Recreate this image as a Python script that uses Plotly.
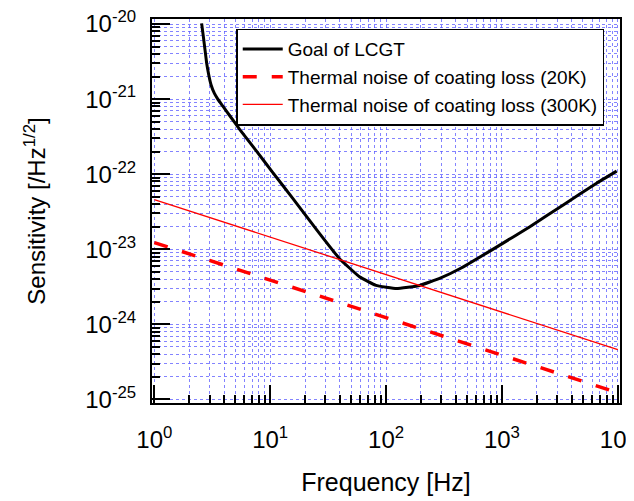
import plotly.graph_objects as go

# Goal of LCGT sensitivity curve
goal_f = [2.56, 2.65, 2.74, 2.83, 2.95, 3.09, 3.30, 3.53, 3.89, 4.45, 5.43, 7.62, 10.5, 15.6,
          26.7, 39.7, 59, 82, 123, 195, 290, 433, 898, 1742, 3381, 6561, 9780]
goal_h = [1.02e-20, 6.8e-21, 4.5e-21, 3.0e-21, 2.09e-21, 1.54e-21, 1.19e-21, 1.0e-21, 8.1e-22, 6.1e-22,
          3.98e-22, 2.03e-22, 1.06e-22, 4.8e-23, 1.62e-23, 7.5e-24, 4.3e-24, 3.3e-24, 3.0e-24, 3.3e-24,
          4.1e-24, 5.5e-24, 1.07e-23, 2.0e-23, 3.9e-23, 7.6e-23, 1.1e-22]

# Thermal noise of coating loss
th_f = [1, 10, 100, 1000, 10000]
th20_h = [1.23e-23, 3.9e-24, 1.23e-24, 3.9e-25, 1.23e-25]
th300_h = [4.6e-23, 1.46e-23, 4.6e-24, 1.46e-24, 4.6e-25]

xtick_vals = [1, 10, 100, 1000, 10000]
xtick_text = ["10<sup>0</sup>", "10<sup>1</sup>", "10<sup>2</sup>", "10<sup>3</sup>", "10<sup>4</sup>"]
ytick_vals = [1e-20, 1e-21, 1e-22, 1e-23, 1e-24, 1e-25]
ytick_text = ["10<sup>-20</sup>", "10<sup>-21</sup>", "10<sup>-22</sup>", "10<sup>-23</sup>", "10<sup>-24</sup>", "10<sup>-25</sup>"]

x_minor = [m * d for d in xtick_vals[:-1] for m in range(2, 10)]
y_minor = [m * d for d in ytick_vals[1:] for m in range(2, 10)]

FONT = "Liberation Sans, Arial, sans-serif"
GRID = "rgba(90,90,255,0.75)"

fig = go.Figure()
fig.add_trace(go.Scatter(x=goal_f, y=goal_h, mode="lines", name="Goal of LCGT",
                         line=dict(color="black", width=3, shape="spline", smoothing=0.3)))
fig.add_trace(go.Scatter(x=th_f, y=th20_h, mode="lines", name="Thermal noise of coating loss (20K)",
                         line=dict(color="#ff0000", width=3.5, dash="14px,15px")))
fig.add_trace(go.Scatter(x=th_f, y=th300_h, mode="lines", name="Thermal noise of coating loss (300K)",
                         line=dict(color="#ff0000", width=1.3)))


def axis_common(minor_vals):
    return dict(
        type="log", showline=True, linecolor="black", linewidth=2, mirror=True,
        ticks="inside", ticklen=18, tickwidth=1.5, tickcolor="black",
        showgrid=True, gridcolor=GRID, griddash="dot", gridwidth=1,
        zeroline=False, automargin=False, ticklabeloverflow="allow",
        minor=dict(tickmode="array", tickvals=minor_vals, ticks="inside", ticklen=8,
                   tickwidth=1.5, tickcolor="black",
                   showgrid=True, gridcolor=GRID, griddash="dot", gridwidth=1),
        tickfont=dict(family=FONT, size=24, color="black"),
    )


fig.update_xaxes(**axis_common(x_minor), range=[-0.02, 4.019], tickmode="array",
                 tickvals=xtick_vals, ticktext=xtick_text,
                 title_text="Frequency [Hz]", title_standoff=22, ticklabelstandoff=14,
                 title_font=dict(family=FONT, size=25, color="black"))
fig.update_yaxes(**axis_common(y_minor), range=[-25.047, -19.933], tickmode="array",
                 tickvals=ytick_vals, ticktext=ytick_text,
                 title_text="Sensitivity [/Hz<sup>1/2</sup>]", title_standoff=33, ticklabelstandoff=9,
                 title_font=dict(family=FONT, size=24, color="black"))

fig.update_layout(
    width=634, height=501,
    margin=dict(l=144, r=22, t=11, b=106),
    paper_bgcolor="white", plot_bgcolor="white",
    font=dict(family=FONT, color="black"),
    showlegend=True,
    legend=dict(x=0.18, y=0.975, xanchor="left", yanchor="top",
                bgcolor="white", bordercolor="black", borderwidth=1.5,
                font=dict(family=FONT, size=19, color="black"),
                tracegroupgap=0, itemwidth=40),
)

fig.write_html("out.html")
